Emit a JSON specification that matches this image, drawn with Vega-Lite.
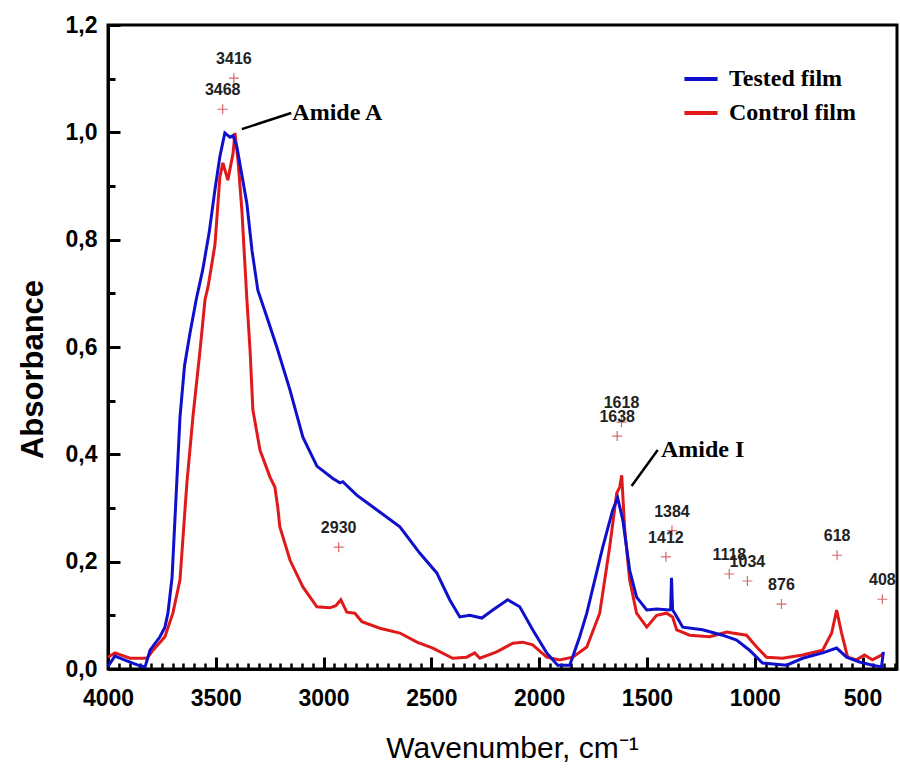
{
  "$schema": "https://vega.github.io/schema/vega-lite/v6.json",
  "width": 789,
  "height": 644,
  "autosize": "none",
  "padding": {"left": 108, "top": 25, "right": 3, "bottom": 100},
  "background": "white",
  "config": {"view": {"stroke": "black", "strokeWidth": 3}, "axis": {"grid": false}},
  "datasets": {
    "spectra": [
      {"film": "Control film", "wn": 4000, "a": 0.022},
      {"film": "Control film", "wn": 3968, "a": 0.03},
      {"film": "Control film", "wn": 3898, "a": 0.02},
      {"film": "Control film", "wn": 3819, "a": 0.02},
      {"film": "Control film", "wn": 3791, "a": 0.035},
      {"film": "Control film", "wn": 3736, "a": 0.06},
      {"film": "Control film", "wn": 3699, "a": 0.104},
      {"film": "Control film", "wn": 3666, "a": 0.166},
      {"film": "Control film", "wn": 3634, "a": 0.347},
      {"film": "Control film", "wn": 3606, "a": 0.47},
      {"film": "Control film", "wn": 3573, "a": 0.594},
      {"film": "Control film", "wn": 3550, "a": 0.688},
      {"film": "Control film", "wn": 3536, "a": 0.712},
      {"film": "Control film", "wn": 3504, "a": 0.79},
      {"film": "Control film", "wn": 3481, "a": 0.917},
      {"film": "Control film", "wn": 3467, "a": 0.943},
      {"film": "Control film", "wn": 3444, "a": 0.911},
      {"film": "Control film", "wn": 3420, "a": 0.961},
      {"film": "Control film", "wn": 3411, "a": 0.999},
      {"film": "Control film", "wn": 3397, "a": 0.948},
      {"film": "Control film", "wn": 3379, "a": 0.855},
      {"film": "Control film", "wn": 3356, "a": 0.69},
      {"film": "Control film", "wn": 3341, "a": 0.594},
      {"film": "Control film", "wn": 3328, "a": 0.483},
      {"film": "Control film", "wn": 3295, "a": 0.408},
      {"film": "Control film", "wn": 3249, "a": 0.358},
      {"film": "Control film", "wn": 3226, "a": 0.339},
      {"film": "Control film", "wn": 3212, "a": 0.3},
      {"film": "Control film", "wn": 3203, "a": 0.265},
      {"film": "Control film", "wn": 3156, "a": 0.203},
      {"film": "Control film", "wn": 3096, "a": 0.153},
      {"film": "Control film", "wn": 3031, "a": 0.116},
      {"film": "Control film", "wn": 2971, "a": 0.114},
      {"film": "Control film", "wn": 2943, "a": 0.118},
      {"film": "Control film", "wn": 2920, "a": 0.129},
      {"film": "Control film", "wn": 2892, "a": 0.106},
      {"film": "Control film", "wn": 2855, "a": 0.104},
      {"film": "Control film", "wn": 2822, "a": 0.088},
      {"film": "Control film", "wn": 2739, "a": 0.076},
      {"film": "Control film", "wn": 2646, "a": 0.067},
      {"film": "Control film", "wn": 2567, "a": 0.05},
      {"film": "Control film", "wn": 2493, "a": 0.039},
      {"film": "Control film", "wn": 2401, "a": 0.02},
      {"film": "Control film", "wn": 2336, "a": 0.022},
      {"film": "Control film", "wn": 2299, "a": 0.03},
      {"film": "Control film", "wn": 2275, "a": 0.02},
      {"film": "Control film", "wn": 2197, "a": 0.032},
      {"film": "Control film", "wn": 2122, "a": 0.048},
      {"film": "Control film", "wn": 2076, "a": 0.05},
      {"film": "Control film", "wn": 2030, "a": 0.045},
      {"film": "Control film", "wn": 1965, "a": 0.022},
      {"film": "Control film", "wn": 1905, "a": 0.017},
      {"film": "Control film", "wn": 1844, "a": 0.022},
      {"film": "Control film", "wn": 1779, "a": 0.041},
      {"film": "Control film", "wn": 1719, "a": 0.104},
      {"film": "Control film", "wn": 1673, "a": 0.227},
      {"film": "Control film", "wn": 1640, "a": 0.328},
      {"film": "Control film", "wn": 1626, "a": 0.339},
      {"film": "Control film", "wn": 1617, "a": 0.361},
      {"film": "Control film", "wn": 1603, "a": 0.259},
      {"film": "Control film", "wn": 1580, "a": 0.166},
      {"film": "Control film", "wn": 1548, "a": 0.104},
      {"film": "Control film", "wn": 1501, "a": 0.078},
      {"film": "Control film", "wn": 1455, "a": 0.1},
      {"film": "Control film", "wn": 1409, "a": 0.104},
      {"film": "Control film", "wn": 1381, "a": 0.097},
      {"film": "Control film", "wn": 1362, "a": 0.073},
      {"film": "Control film", "wn": 1302, "a": 0.063},
      {"film": "Control film", "wn": 1209, "a": 0.06},
      {"film": "Control film", "wn": 1130, "a": 0.069},
      {"film": "Control film", "wn": 1103, "a": 0.067},
      {"film": "Control film", "wn": 1038, "a": 0.063},
      {"film": "Control film", "wn": 991, "a": 0.041},
      {"film": "Control film", "wn": 945, "a": 0.022},
      {"film": "Control film", "wn": 871, "a": 0.02},
      {"film": "Control film", "wn": 778, "a": 0.026},
      {"film": "Control film", "wn": 685, "a": 0.035},
      {"film": "Control film", "wn": 643, "a": 0.067},
      {"film": "Control film", "wn": 620, "a": 0.11},
      {"film": "Control film", "wn": 597, "a": 0.067},
      {"film": "Control film", "wn": 569, "a": 0.022},
      {"film": "Control film", "wn": 528, "a": 0.017},
      {"film": "Control film", "wn": 491, "a": 0.026},
      {"film": "Control film", "wn": 454, "a": 0.017},
      {"film": "Control film", "wn": 412, "a": 0.026},
      {"film": "Control film", "wn": 403, "a": 0.03},
      {"film": "Tested film", "wn": 4000, "a": 0.005},
      {"film": "Tested film", "wn": 3968, "a": 0.024},
      {"film": "Tested film", "wn": 3898, "a": 0.013},
      {"film": "Tested film", "wn": 3852, "a": 0.006},
      {"film": "Tested film", "wn": 3828, "a": 0.004},
      {"film": "Tested film", "wn": 3805, "a": 0.035},
      {"film": "Tested film", "wn": 3759, "a": 0.06},
      {"film": "Tested film", "wn": 3736, "a": 0.078},
      {"film": "Tested film", "wn": 3722, "a": 0.104},
      {"film": "Tested film", "wn": 3703, "a": 0.17},
      {"film": "Tested film", "wn": 3685, "a": 0.315},
      {"film": "Tested film", "wn": 3666, "a": 0.47},
      {"film": "Tested film", "wn": 3645, "a": 0.565},
      {"film": "Tested film", "wn": 3620, "a": 0.625},
      {"film": "Tested film", "wn": 3590, "a": 0.69},
      {"film": "Tested film", "wn": 3560, "a": 0.745},
      {"film": "Tested film", "wn": 3530, "a": 0.815},
      {"film": "Tested film", "wn": 3505, "a": 0.89},
      {"film": "Tested film", "wn": 3481, "a": 0.955},
      {"film": "Tested film", "wn": 3458, "a": 0.999},
      {"film": "Tested film", "wn": 3434, "a": 0.991},
      {"film": "Tested film", "wn": 3420, "a": 0.994},
      {"film": "Tested film", "wn": 3402, "a": 0.973},
      {"film": "Tested film", "wn": 3356, "a": 0.868},
      {"film": "Tested film", "wn": 3332, "a": 0.78},
      {"film": "Tested film", "wn": 3305, "a": 0.706},
      {"film": "Tested film", "wn": 3263, "a": 0.656},
      {"film": "Tested film", "wn": 3217, "a": 0.6},
      {"film": "Tested film", "wn": 3156, "a": 0.52},
      {"film": "Tested film", "wn": 3096, "a": 0.432},
      {"film": "Tested film", "wn": 3031, "a": 0.378},
      {"film": "Tested film", "wn": 2957, "a": 0.355},
      {"film": "Tested film", "wn": 2924, "a": 0.347},
      {"film": "Tested film", "wn": 2911, "a": 0.349},
      {"film": "Tested film", "wn": 2846, "a": 0.324},
      {"film": "Tested film", "wn": 2771, "a": 0.302},
      {"film": "Tested film", "wn": 2646, "a": 0.265},
      {"film": "Tested film", "wn": 2554, "a": 0.216},
      {"film": "Tested film", "wn": 2475, "a": 0.179},
      {"film": "Tested film", "wn": 2415, "a": 0.129},
      {"film": "Tested film", "wn": 2368, "a": 0.097},
      {"film": "Tested film", "wn": 2322, "a": 0.1},
      {"film": "Tested film", "wn": 2266, "a": 0.095},
      {"film": "Tested film", "wn": 2215, "a": 0.11},
      {"film": "Tested film", "wn": 2146, "a": 0.129},
      {"film": "Tested film", "wn": 2090, "a": 0.116},
      {"film": "Tested film", "wn": 2030, "a": 0.073},
      {"film": "Tested film", "wn": 1965, "a": 0.03},
      {"film": "Tested film", "wn": 1914, "a": 0.007},
      {"film": "Tested film", "wn": 1858, "a": 0.007},
      {"film": "Tested film", "wn": 1812, "a": 0.06},
      {"film": "Tested film", "wn": 1779, "a": 0.104},
      {"film": "Tested film", "wn": 1705, "a": 0.227},
      {"film": "Tested film", "wn": 1659, "a": 0.296},
      {"film": "Tested film", "wn": 1636, "a": 0.319},
      {"film": "Tested film", "wn": 1612, "a": 0.278},
      {"film": "Tested film", "wn": 1580, "a": 0.184},
      {"film": "Tested film", "wn": 1548, "a": 0.134},
      {"film": "Tested film", "wn": 1501, "a": 0.11},
      {"film": "Tested film", "wn": 1455, "a": 0.112},
      {"film": "Tested film", "wn": 1395, "a": 0.11},
      {"film": "Tested film", "wn": 1390, "a": 0.112},
      {"film": "Tested film", "wn": 1386, "a": 0.17},
      {"film": "Tested film", "wn": 1381, "a": 0.11},
      {"film": "Tested film", "wn": 1371, "a": 0.104},
      {"film": "Tested film", "wn": 1334, "a": 0.078},
      {"film": "Tested film", "wn": 1242, "a": 0.073},
      {"film": "Tested film", "wn": 1149, "a": 0.063},
      {"film": "Tested film", "wn": 1084, "a": 0.054},
      {"film": "Tested film", "wn": 1024, "a": 0.035},
      {"film": "Tested film", "wn": 964, "a": 0.011},
      {"film": "Tested film", "wn": 852, "a": 0.007},
      {"film": "Tested film", "wn": 778, "a": 0.02},
      {"film": "Tested film", "wn": 685, "a": 0.03},
      {"film": "Tested film", "wn": 620, "a": 0.039},
      {"film": "Tested film", "wn": 574, "a": 0.022},
      {"film": "Tested film", "wn": 514, "a": 0.013},
      {"film": "Tested film", "wn": 454, "a": 0.007},
      {"film": "Tested film", "wn": 412, "a": 0.004},
      {"film": "Tested film", "wn": 403, "a": 0.032}
    ],
    "peaks": [
      {"wn": 3416, "a": 1.101, "label": "3416"},
      {"wn": 3468, "a": 1.043, "label": "3468"},
      {"wn": 2930, "a": 0.227, "label": "2930"},
      {"wn": 1618, "a": 0.46, "label": "1618"},
      {"wn": 1638, "a": 0.434, "label": "1638"},
      {"wn": 1384, "a": 0.258, "label": "1384"},
      {"wn": 1412, "a": 0.209, "label": "1412"},
      {"wn": 1118, "a": 0.177, "label": "1118"},
      {"wn": 1034, "a": 0.164, "label": "1034"},
      {"wn": 876, "a": 0.121, "label": "876"},
      {"wn": 618, "a": 0.212, "label": "618"},
      {"wn": 408, "a": 0.13, "label": "408"}
    ],
    "notes": [
      {"wn": 3379, "a": 1.006, "wn2": 3150, "a2": 1.036, "tx": 3145, "t": "Amide A"},
      {"wn": 1571, "a": 0.341, "wn2": 1450, "a2": 0.408, "tx": 1435, "t": "Amide I"}
    ]
  },
  "layer": [
    {
      "data": {"name": "spectra"},
      "mark": {"type": "line", "strokeWidth": 3, "interpolate": "linear"},
      "encoding": {
        "x": {
          "field": "wn", "type": "quantitative",
          "scale": {"domain": [4000, 340], "nice": false, "zero": false},
          "axis": {
            "values": [4000, 3500, 3000, 2500, 2000, 1500, 1000, 500],
            "format": "d",
            "title": "Wavenumber, cm⁻¹",
            "titleFont": "Liberation Sans", "titleFontSize": 30, "titleFontWeight": "normal", "titleColor": "black",
            "titleX": 404, "titleY": 88, "titleAlign": "center", "titleBaseline": "alphabetic",
            "labelFont": "Liberation Sans", "labelFontSize": 23, "labelFontWeight": "bold", "labelColor": "black",
            "labelPadding": 30, "labelFlush": false, "labelOverlap": false,
            "tickSize": -12, "tickWidth": 3, "tickColor": "black",
            "domainColor": "black", "domainWidth": 3
          }
        },
        "y": {
          "field": "a", "type": "quantitative",
          "scale": {"domain": [0, 1.2], "nice": false, "zero": false},
          "axis": {
            "values": [0, 0.2, 0.4, 0.6, 0.8, 1.0, 1.2],
            "labelExpr": "replace(format(datum.value, '.1f'), '.', ',')",
            "title": "Absorbance",
            "titleFont": "Liberation Sans", "titleFontSize": 31, "titleFontWeight": "bold", "titleColor": "black",
            "titleX": -66, "titleY": 344, "titleAngle": -90, "titleAlign": "center", "titleBaseline": "alphabetic",
            "labelFont": "Liberation Sans", "labelFontSize": 23, "labelFontWeight": "bold", "labelColor": "black",
            "labelPadding": 23, "labelOverlap": false, "labelFlush": false,
            "tickSize": -12, "tickWidth": 3, "tickColor": "black",
            "domainColor": "black", "domainWidth": 3
          }
        },
        "color": {
          "field": "film", "type": "nominal",
          "scale": {"domain": ["Tested film", "Control film"], "range": ["#1010cc", "#e01a1a"]},
          "legend": {
            "orient": "none", "legendX": 574, "legendY": 35, "title": null, "padding": 0,
            "symbolType": "stroke", "symbolSize": 1100, "symbolStrokeWidth": 4,
            "labelFont": "Liberation Serif", "labelFontWeight": "bold", "labelFontSize": 24, "labelColor": "black",
            "labelOffset": 9, "rowPadding": 3
          }
        }
      }
    },
    {
      "data": {"name": "peaks"},
      "mark": {"type": "point", "shape": "M-1,0H1M0,-1V1", "size": 100, "filled": false, "stroke": "#d46a6a", "strokeWidth": 1.2, "opacity": 1},
      "encoding": {
        "x": {
          "field": "wn", "type": "quantitative",
          "axis": {
            "orient": "bottom",
            "values": [3950, 3900, 3850, 3800, 3750, 3700, 3650, 3600, 3550, 3450, 3400, 3350, 3300, 3250, 3200, 3150, 3100, 3050, 2950, 2900, 2850, 2800, 2750, 2700, 2650, 2600, 2550, 2450, 2400, 2350, 2300, 2250, 2200, 2150, 2100, 2050, 1950, 1900, 1850, 1800, 1750, 1700, 1650, 1600, 1550, 1450, 1400, 1350, 1300, 1250, 1200, 1150, 1100, 1050, 950, 900, 850, 800, 750, 700, 650, 600, 550, 450, 400, 350],
            "labels": false, "domain": false, "title": null,
            "tickSize": -6, "tickWidth": 2.5, "tickColor": "black"
          }
        },
        "y": {
          "field": "a", "type": "quantitative",
          "axis": {
            "orient": "left",
            "values": [0.1, 0.3, 0.5, 0.7, 0.9, 1.1],
            "labels": false, "domain": false, "title": null,
            "tickSize": -7, "tickWidth": 3, "tickColor": "black"
          }
        }
      }
    },
    {
      "data": {"name": "peaks"},
      "mark": {"type": "text", "dy": -19, "font": "Liberation Sans", "fontWeight": "bold", "fontSize": 16, "fill": "#222222", "align": "center", "baseline": "middle"},
      "encoding": {
        "x": {"field": "wn", "type": "quantitative", "axis": null},
        "y": {"field": "a", "type": "quantitative", "axis": null},
        "text": {"field": "label"}
      }
    },
    {
      "data": {"name": "notes"},
      "mark": {"type": "rule", "stroke": "black", "strokeWidth": 2.5},
      "encoding": {
        "x": {"field": "wn", "type": "quantitative", "axis": null},
        "y": {"field": "a", "type": "quantitative", "axis": null},
        "x2": {"field": "wn2"},
        "y2": {"field": "a2"}
      }
    },
    {
      "data": {"name": "notes"},
      "mark": {"type": "text", "font": "Liberation Serif", "fontWeight": "bold", "fontSize": 24, "fill": "black", "align": "left", "baseline": "middle"},
      "encoding": {
        "x": {"field": "tx", "type": "quantitative", "axis": null},
        "y": {"field": "a2", "type": "quantitative", "axis": null},
        "text": {"field": "t"}
      }
    }
  ],
  "resolve": {"axis": {"x": "independent", "y": "independent"}}
}
